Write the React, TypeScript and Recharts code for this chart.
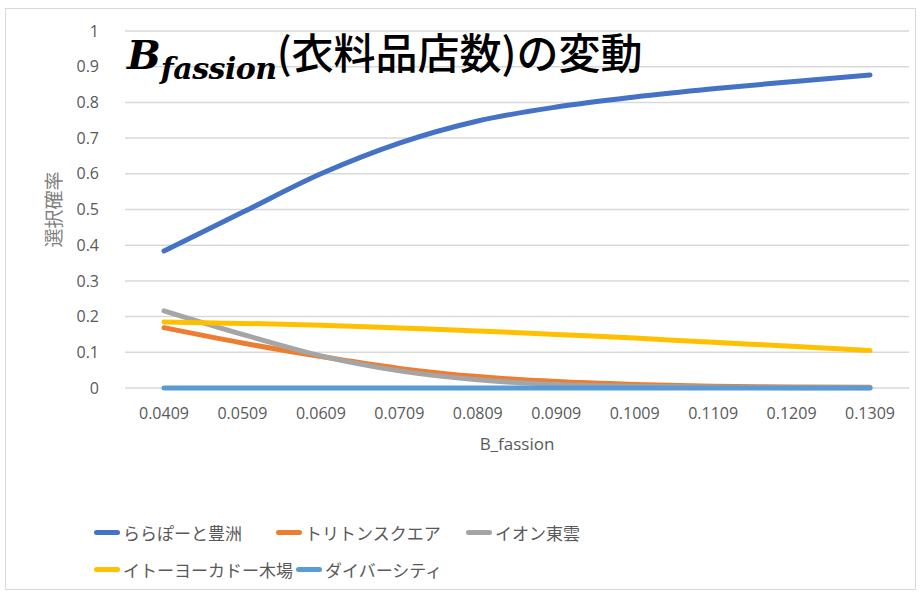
import React from 'react'
import { CartesianGrid, Label, Line, LineChart, XAxis, YAxis } from 'recharts'

// B_fassion values on the x axis
const bValues = ['0.0409', '0.0509', '0.0609', '0.0709', '0.0809', '0.0909', '0.1009', '0.1109', '0.1209', '0.1309']

// choice probability per store
const lalaport = [0.384, 0.492, 0.6, 0.686, 0.748, 0.787, 0.815, 0.838, 0.858, 0.877]
const triton = [0.169, 0.126, 0.088, 0.055, 0.032, 0.018, 0.01, 0.005, 0.003, 0.002]
const aeon = [0.216, 0.15, 0.09, 0.048, 0.023, 0.01, 0.005, 0.002, 0.001, 0.0005]
const itoyokado = [0.185, 0.181, 0.176, 0.168, 0.16, 0.15, 0.14, 0.128, 0.117, 0.105]
const diversity = [0, 0, 0, 0, 0, 0, 0, 0, 0, 0]

const yTicks = [0, 0.1, 0.2, 0.3, 0.4, 0.5, 0.6, 0.7, 0.8, 0.9, 1]

const series = [
  { key: 'lalaport', name: 'ららぽーと豊洲', color: '#4472C4', values: lalaport },
  { key: 'triton', name: 'トリトンスクエア', color: '#ED7D31', values: triton },
  { key: 'aeon', name: 'イオン東雲', color: '#A5A5A5', values: aeon },
  { key: 'itoyokado', name: 'イトーヨーカドー木場', color: '#FFC000', values: itoyokado },
  { key: 'diversity', name: 'ダイバーシティ', color: '#5B9BD5', values: diversity },
]

const data = bValues.map((b, i) => {
  const row: Record<string, string | number> = { b }
  series.forEach((s) => {
    row[s.key] = s.values[i]
  })
  return row
})

const FONT = '"Open Sans", "Noto Sans CJK JP", sans-serif'

// Excel-style legend, two rows (undefined width = size to content)
const legendRows = [
  [0, 1, 2],
  [3, 4],
]
const legendWidths: (number | undefined)[][] = [[182, 190, 220], [undefined, 220]]

function LegendBox() {
  return (
    <div style={{ position: 'absolute', left: 94, top: 514, fontFamily: FONT, fontSize: 17, color: '#595959' }}>
      {legendRows.map((row, r) => (
        <div key={r} style={{ display: 'flex', height: 37, alignItems: 'center' }}>
          {row.map((idx, c) => {
            const s = series[idx]
            const w = legendWidths[r][c]
            return (
              <div
                key={s.key}
                style={{
                  display: 'flex',
                  alignItems: 'center',
                  width: w,
                  marginRight: w === undefined ? 3 : 0,
                  flexShrink: 0,
                }}
              >
                <span
                  style={{
                    display: 'inline-block',
                    width: 26,
                    height: 5,
                    borderRadius: 2.5,
                    background: s.color,
                    marginRight: 3,
                    flexShrink: 0,
                  }}
                />
                <span style={{ whiteSpace: 'nowrap' }}>{s.name}</span>
              </div>
            )
          })}
        </div>
      ))}
    </div>
  )
}

export default function App() {
  return (
    <div
      style={{
        position: 'absolute',
        left: 0,
        top: 0,
        width: 922,
        height: 596,
        background: '#fff',
        fontFamily: FONT,
      }}
    >
      <div
        style={{
          position: 'absolute',
          left: 5,
          top: 8,
          width: 911,
          height: 582,
          border: '1px solid #d9d9d9',
          boxSizing: 'border-box',
        }}
      />
      <LineChart
        width={922}
        height={596}
        data={data}
        margin={{ top: 31, right: 13, left: 0, bottom: 138 }}
      >
        <CartesianGrid vertical={false} stroke="#d9d9d9" strokeWidth={1.5} />
        <XAxis
          dataKey="b"
          height={70}
          padding={{ left: 39, right: 39 }}
          tickLine={false}
          axisLine={false}
          tick={{ fill: '#595959', fontSize: 16 }}
          tickMargin={14}
          interval={0}
        >
          <Label value="B_fassion" position="insideBottom" offset={8} fill="#595959" fontSize={17} />
        </XAxis>
        <YAxis
          width={125}
          domain={[0, 1]}
          ticks={yTicks}
          tickLine={false}
          axisLine={false}
          tick={{ fill: '#595959', fontSize: 16 }}
          tickMargin={20}
          interval={0}
        >
          <Label value="選択確率" angle={-90} position="center" dx={-8} fill="#7f7f7f" fontSize={19} />
        </YAxis>
        {series.map((s) => (
          <Line
            key={s.key}
            type="monotone"
            dataKey={s.key}
            name={s.name}
            stroke={s.color}
            strokeWidth={5}
            strokeLinecap="round"
            dot={false}
            isAnimationActive={false}
          />
        ))}
      </LineChart>
      <LegendBox />
      <div
        style={{
          position: 'absolute',
          left: 127,
          top: 20,
          display: 'flex',
          alignItems: 'baseline',
          color: '#000',
          whiteSpace: 'nowrap',
        }}
      >
        <span style={{ fontFamily: '"DejaVu Serif", serif', fontStyle: 'italic', fontWeight: 'bold', fontSize: 40 }}>
          B
        </span>
        <span
          style={{
            fontFamily: '"DejaVu Serif", serif',
            fontStyle: 'italic',
            fontWeight: 'bold',
            fontSize: 30,
            position: 'relative',
            top: 10,
            letterSpacing: -0.5,
          }}
        >
          fassion
        </span>
        <span style={{ fontFamily: '"Noto Sans CJK JP", sans-serif', fontSize: 42, fontWeight: 500 }}>
          (衣料品店数)の変動
        </span>
      </div>
    </div>
  )
}
